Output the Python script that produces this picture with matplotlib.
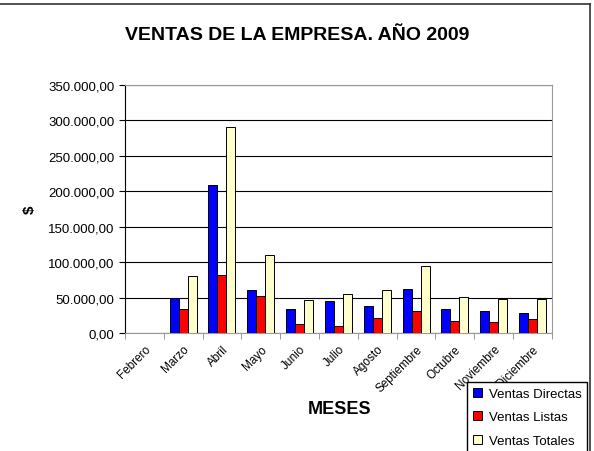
import matplotlib.pyplot as plt
import numpy as np
from matplotlib.ticker import FuncFormatter

plt.rcParams['font.family'] = ['Liberation Sans', 'DejaVu Sans']

meses = ['Febrero', 'Marzo', 'Abril', 'Mayo', 'Junio', 'Julio', 'Agosto',
         'Septiembre', 'Octubre', 'Noviembre', 'Diciembre']
directas = [0, 49000, 209000, 61000, 34000, 45000, 38000, 62000, 34000, 31000, 28000]
listas = [0, 34000, 82000, 52000, 13000, 10000, 21000, 31000, 17000, 15000, 20000]
totales = [0, 80000, 291000, 110000, 47000, 55000, 61000, 95000, 51000, 48000, 48000]

fig = plt.figure(figsize=(5.94, 4.52), dpi=100)
ax = fig.add_axes([0.2104, 0.261, 0.7186, 0.5487])

x = np.arange(len(meses))
w = 0.232
ax.bar(x - w, directas, w, color='#0000FF', edgecolor='black', linewidth=0.7, label='Ventas Directas', zorder=3)
ax.bar(x, listas, w, color='#FF0000', edgecolor='black', linewidth=0.7, label='Ventas Listas', zorder=3)
ax.bar(x + w, totales, w, color='#FFFFCC', edgecolor='black', linewidth=0.7, label='Ventas Totales', zorder=3)

ax.set_xlim(-0.5, len(meses) - 0.5)
ax.set_ylim(0, 350000)
ax.set_yticks(np.arange(0, 350001, 50000))
fmt = lambda v, p: '{:,.2f}'.format(v).replace(',', 'X').replace('.', ',').replace('X', '.')
ax.yaxis.set_major_formatter(FuncFormatter(fmt))
ax.grid(axis='y', color='black', linewidth=0.8, zorder=0)

ax.set_xticks(x)
ax.set_xticklabels(meses, rotation=45, ha='right', rotation_mode='anchor', fontsize=8.5)
ax.set_xticks(np.arange(-0.5, len(meses), 1), minor=True)
ax.tick_params(axis='x', which='major', length=0, pad=7)
ax.tick_params(axis='x', which='minor', length=4, color='#888888')
ax.tick_params(axis='y', labelsize=9.5, length=4)

for s in ['top', 'right', 'bottom']:
    ax.spines[s].set_color('#999999')
ax.spines['left'].set_color('black')

ax.set_ylabel('$', fontsize=11, fontweight='bold', labelpad=8)
fig.text(0.572, 0.093, 'MESES', ha='center', va='center', fontsize=13, fontweight='bold')
fig.text(0.50, 0.922, 'VENTAS DE LA EMPRESA. AÑO 2009', ha='center', va='center',
         fontsize=14, fontweight='bold')

# borde del area del grafico
fig.add_artist(plt.Line2D([0, 0.993], [0.989, 0.989], color='#333333', linewidth=1.2))
fig.add_artist(plt.Line2D([0.993, 0.993], [0.989, 0.0], color='#333333', linewidth=1.2))

leg = fig.legend(loc='upper left', bbox_to_anchor=(0.786, 0.153), fontsize=9.5,
                 frameon=True, fancybox=False, edgecolor='black', framealpha=1,
                 handlelength=0.7, handleheight=0.7, handletextpad=0.5,
                 borderaxespad=0, labelspacing=0.85, borderpad=0.45)
leg.get_frame().set_linewidth(1.0)

fig.savefig('out.png', dpi=100)
